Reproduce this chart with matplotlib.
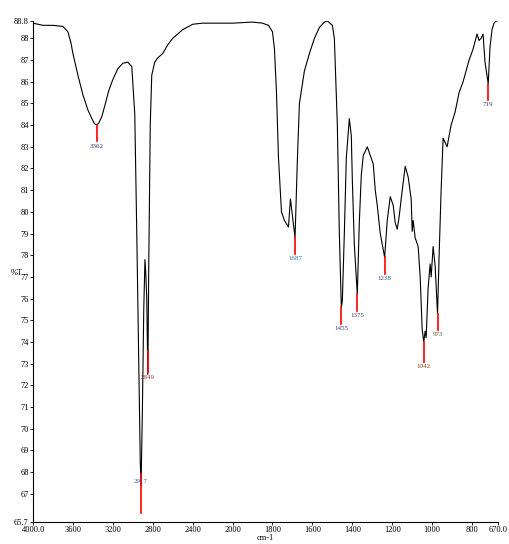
import numpy as np
import matplotlib
matplotlib.use('Agg')
import matplotlib.pyplot as plt

# spectrum trace (wavenumber cm-1, %T)
wn = [4000, 3900, 3800, 3700, 3650, 3620, 3600, 3550, 3500, 3450, 3400, 3380, 3362, 3340,
      3310, 3280, 3240, 3200, 3150, 3100, 3050, 3010,
      2980, 2960, 2940, 2925, 2917, 2905, 2890, 2878, 2870, 2860, 2849, 2840, 2825, 2810,
      2780, 2750, 2700, 2650, 2600, 2500, 2400, 2300, 2100, 2000, 1900, 1850, 1820, 1800,
      1790, 1780, 1770, 1755, 1740, 1720, 1710, 1700, 1687, 1675, 1665, 1640, 1615, 1590,
      1565, 1540, 1525, 1500, 1490, 1475, 1465, 1455, 1450, 1440, 1430, 1415, 1405, 1400,
      1390, 1375, 1365, 1355, 1345, 1335, 1325, 1310, 1295, 1285, 1275, 1260, 1238, 1225,
      1210, 1195, 1185, 1175, 1165, 1155, 1135, 1120, 1105, 1100, 1095, 1085, 1070, 1060,
      1050, 1042, 1035, 1030, 1020, 1010, 1005, 995, 985, 973, 965, 955, 945, 925, 905,
      885, 865, 845, 830, 815, 795, 775, 765, 755, 745, 735, 719, 710, 700, 690, 680, 670]
tr = [88.7, 88.6, 88.6, 88.55, 88.3, 87.8, 87.3, 86.3, 85.4, 84.7, 84.2, 84.05, 84.0, 84.1,
      84.4, 84.9, 85.6, 86.1, 86.6, 86.85, 86.9, 86.7,
      84.5, 79.0, 73.0, 68.5, 67.4, 70.5, 75.5, 77.8, 77.2, 76.0, 72.5, 77.5, 84.0, 86.3,
      86.9, 87.1, 87.3, 87.7, 88.0, 88.4, 88.65, 88.7, 88.7, 88.7, 88.75, 88.7, 88.6, 88.3,
      87.5, 85.5, 82.5, 80.0, 79.6, 79.3, 80.6, 79.8, 78.8, 82.5, 85.0, 86.5, 87.3, 88.0,
      88.5, 88.75, 88.8, 88.6, 88.0, 84.0, 79.0, 75.6, 75.9, 79.0, 82.5, 84.3, 83.5, 81.5,
      78.5, 76.2, 79.5, 81.7, 82.6, 82.8, 83.0, 82.6, 82.2, 81.0, 80.3, 79.0, 77.9, 79.6,
      80.7, 80.3, 79.5, 79.2, 79.8, 80.6, 82.1, 81.6, 80.6, 79.1, 79.6, 78.8, 78.4, 77.0,
      74.6, 74.0, 74.5, 74.2, 76.5, 77.6, 77.0, 78.4, 77.5, 75.3, 78.0, 81.0, 83.4, 83.0,
      84.0, 84.6, 85.5, 86.0, 86.5, 87.0, 87.5, 88.2, 87.9, 88.0, 88.2, 86.9, 85.9, 87.6,
      88.4, 88.7, 88.8, 88.8]

# peak labels: position, %T at peak, red line length, label colour
peak_wn = [3362, 2917, 2849, 1687, 1455, 1375, 1238, 1042, 973, 719]
peak_t = [84.0, 67.9, 73.6, 78.8, 75.6, 76.2, 77.9, 74.0, 75.3, 85.9]
peak_len = [0.75, 1.8, 1.0, 0.75, 0.75, 0.75, 0.75, 0.9, 0.75, 0.75]
peak_col = ['#39396b', '#2f6fb0', '#b03a2e', '#2f6fb0', '#39396b', '#5a3a6b',
            '#2f4f8b', '#8b4513', '#5a5a2f', '#39396b']

xticks = [4000, 3600, 3200, 2800, 2400, 2000, 1800, 1600, 1400, 1200, 1000, 800, 670]
xtick_labels = ['4000.0', '3600', '3200', '2800', '2400', '2000', '1800', '1600', '1400',
                '1200', '1000', '800', '670.0']
yticks = [65.7] + list(range(67, 89)) + [88.8]
ytick_labels = ['65.7'] + [str(v) for v in range(67, 89)] + ['88.8']


def fwd(x):
    x = np.asarray(x, dtype=float)
    return np.where(x >= 2000, x, 2 * x - 2000)


def inv(u):
    u = np.asarray(u, dtype=float)
    return np.where(u >= 2000, u, (u + 2000) / 2)


plt.rcParams['font.family'] = ['Liberation Serif', 'DejaVu Serif']
fig = plt.figure(figsize=(5.09, 5.44), dpi=100)
ax = fig.add_axes([33 / 509, 1 - 522 / 544, 465 / 509, 501 / 544])
ax.set_xscale('function', functions=(fwd, inv))
ax.plot(wn, tr, color='black', lw=0.8)

for w, t, l, c in zip(peak_wn, peak_t, peak_len, peak_col):
    ax.plot([w, w], [t, t - l], color='red', lw=1.2)
    if w == 2917:
        ax.text(w, t - 0.2, str(w), color=c, fontsize=5, ha='center', va='top')
    else:
        ax.text(w, t - l - 0.1, str(w), color=c, fontsize=5, ha='center', va='top')

ax.set_xlim(4000, 670)
ax.set_ylim(65.7, 88.8)
ax.set_xticks(xticks)
ax.set_xticklabels(xtick_labels)
ax.set_yticks(yticks)
ax.set_yticklabels(ytick_labels)
ax.tick_params(labelsize=6, length=2, width=0.6, pad=1)
ax.xaxis.set_minor_locator(matplotlib.ticker.NullLocator())
for s in ['top', 'right']:
    ax.spines[s].set_visible(False)
for s in ['left', 'bottom']:
    ax.spines[s].set_linewidth(0.8)
ax.set_xlabel('cm-1', fontsize=6, labelpad=0)
ax.set_ylabel('%T', fontsize=6, rotation=0, labelpad=6)
ax.yaxis.set_label_coords(-0.035, 0.49)

fig.savefig('out.png', dpi=100)
